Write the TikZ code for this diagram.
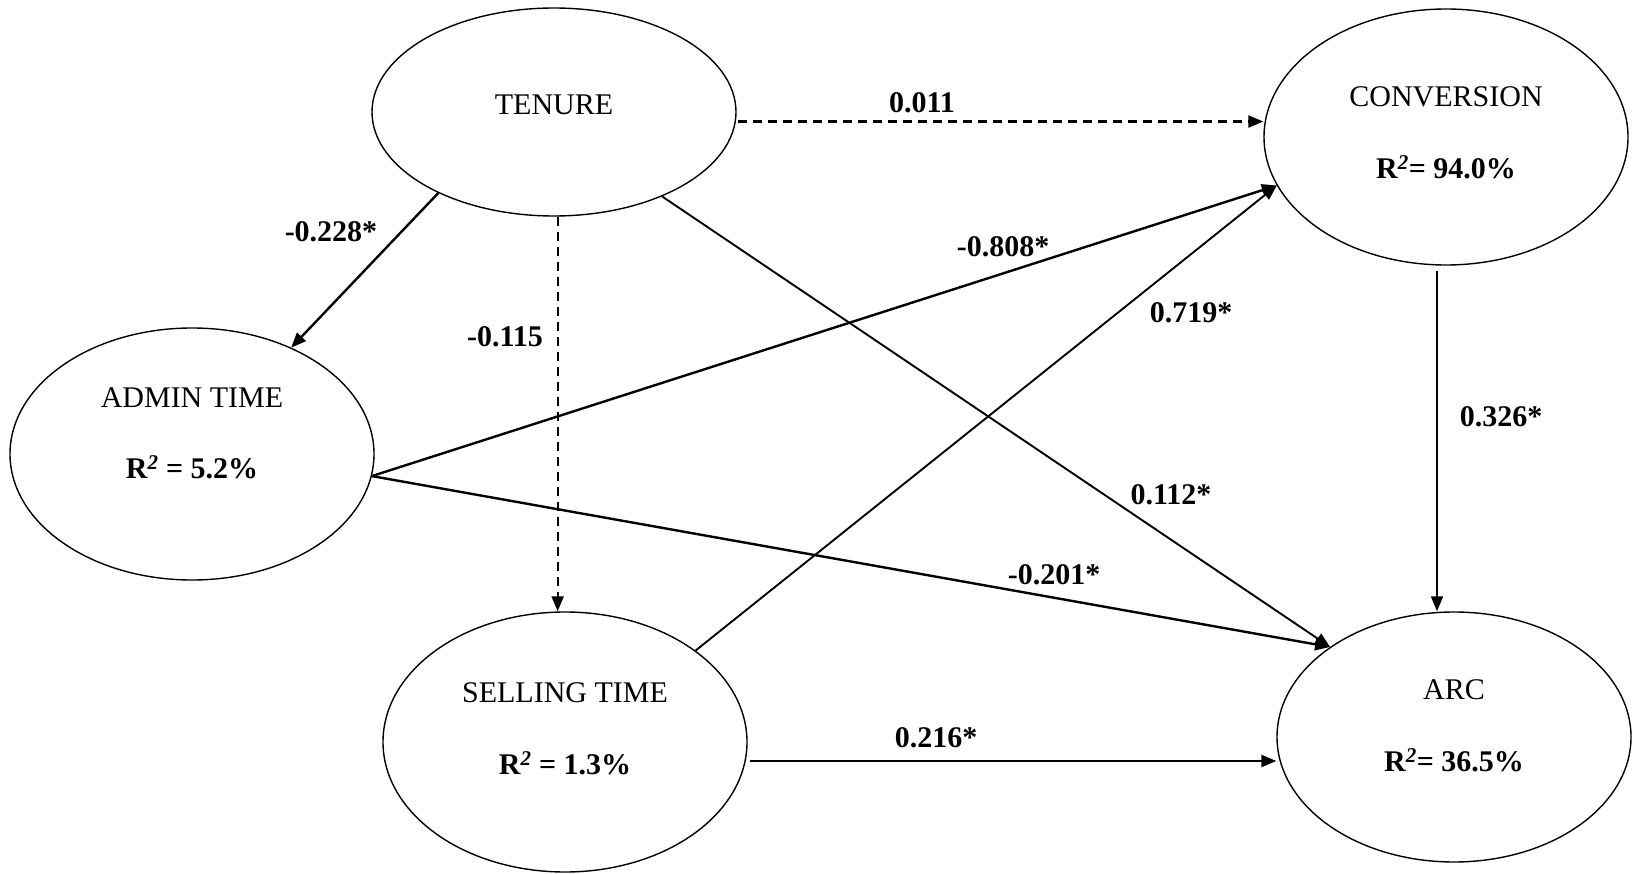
\documentclass[tikz,border=0pt]{standalone}
\usepackage{fontspec}
\setmainfont{Liberation Serif}
\usetikzlibrary{shapes.geometric,arrows.meta}
\begin{document}
\begin{tikzpicture}[x=1pt,y=-1pt,
  ell/.style={draw,ellipse,line width=1.4pt,inner sep=0pt},
  nm/.style={font=\fontsize{30}{36}\selectfont,inner sep=0pt},
  rsq/.style={font=\fontsize{30}{36}\selectfont\bfseries,inner sep=0pt},
  coef/.style={font=\fontsize{30}{36}\selectfont\bfseries,inner sep=0pt},
  conn/.style={line width=2.4pt,-{Triangle[length=15pt,width=12pt]}},
  dconn/.style={conn,line width=2.2pt,dash pattern=on 9pt off 6pt}]
\useasboundingbox (0,0) rectangle (1633,874);
% nodes
\node[ell,minimum width=364pt,minimum height=208pt] (TEN) at (554,112) {};
\node[ell,minimum width=364pt,minimum height=256pt] (CONV) at (1446,137) {};
\node[ell,minimum width=364pt,minimum height=252pt] (ADM) at (192,454) {};
\node[ell,minimum width=364pt,minimum height=260pt] (SELL) at (565,742) {};
\node[ell,minimum width=354pt,minimum height=250pt] (ARC) at (1454,737) {};
% node texts
\node[nm] (tenT) at ([yshift=7pt]TEN.center) {TENURE};
\node[nm] (convT) at ([yshift=40pt]CONV.center) {CONVERSION};
\node[rsq] (convR) at ([yshift=-30pt]CONV.center) {R\textsuperscript{\textit{2}}= 94.0\%};
\node[nm] (admT) at ([yshift=56pt]ADM.center) {ADMIN TIME};
\node[rsq] (admR) at ([yshift=-13pt]ADM.center) {R\textsuperscript{\textit{2}} = 5.2\%};
\node[nm] (sellT) at ([yshift=49pt]SELL.center) {SELLING TIME};
\node[rsq] (sellR) at ([yshift=-21pt]SELL.center) {R\textsuperscript{\textit{2}} = 1.3\%};
\node[nm] (arcT) at ([yshift=47pt]ARC.center) {ARC};
\node[rsq] (arcR) at ([yshift=-23pt]ARC.center) {R\textsuperscript{\textit{2}}= 36.5\%};
% helper coordinates
\coordinate (admOut) at (ADM.-7);
\coordinate (tenDn) at (TEN.-88);
\coordinate (tenRt) at ([xshift=2pt]TEN.-3);
\coordinate (convDn) at ([xshift=-9pt,yshift=-5pt]CONV.south);
\coordinate (sellRt) at ([xshift=4pt]SELL.-6);
% connectors
\draw[dconn] (tenRt) -- (tenRt -| CONV.west);
\draw[conn] (TEN.-145) -- (ADM.47);
\draw[dconn] (tenDn) -- (tenDn |- SELL.north);
\draw[conn,line width=1.9pt] (TEN.-38) -- (ARC.144);
\draw[conn] (admOut) -- (CONV.-164);
\draw[conn] (admOut) -- (ARC.144);
\draw[conn,line width=1.9pt] (SELL.35) -- (CONV.-164);
\draw[conn,line width=1.9pt] (convDn) -- (convDn |- ARC.north);
\draw[conn] (sellRt) -- (sellRt -| ARC.west);
% coefficients
\node[coef] (c1) at (922,103) {0.011};
\node[coef] (c2) at (331,232) {-0.228*};
\node[coef] (c3) at (505,337) {-0.115};
\node[coef] (c4) at (1171,495) {0.112*};
\node[coef] (c5) at (1003,247) {-0.808*};
\node[coef] (c6) at (1054,575) {-0.201*};
\node[coef] (c7) at (1191,313) {0.719*};
\node[coef] (c8) at (1501,417) {0.326*};
\node[coef] (c9) at (936,738) {0.216*};
\end{tikzpicture}
\end{document}
